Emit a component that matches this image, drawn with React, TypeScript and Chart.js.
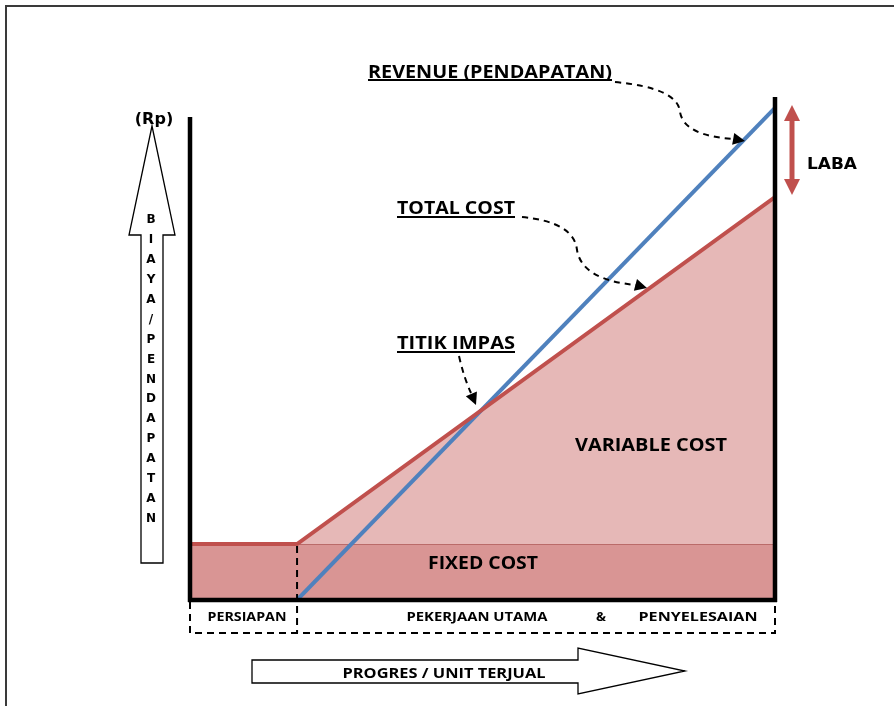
import React, { useEffect, useRef } from "react";
import { Chart, registerables } from "chart.js";

Chart.register(...registerables);

// ---- data (progress on x, Rp on y, both 0..100) ----
const progress = [0, 18.3, 100];
const fixedCost = [11.2, 11.2, 11.2];
const totalCost = [11.2, 11.2, 80.6];
const revenueProgress = [18.3, 100];
const revenue = [0, 98.4];
const phaseBoundary = 18.3;
const leftAxisTop = 96.6;
const rightAxisTop = 100.6;

const phaseLabels = ["PERSIAPAN", "PEKERJAAN UTAMA", "&", "PENYELESAIAN"];
const yArrowLetters = ["B", "I", "A", "Y", "A", "/", "P", "E", "N", "D", "A", "P", "A", "T", "A", "N"];
const calloutLabels = ["REVENUE (PENDAPATAN)", "TOTAL COST", "TITIK IMPAS"];
const areaLabels = ["VARIABLE COST", "FIXED COST"];
const xArrowLabel = "PROGRES / UNIT TERJUAL";
const yUnitLabel = "(Rp)";
const profitLabel = "LABA";

const RED = "#c0504d";
const BLUE = "#4f81bd";
const CAL = "'Open Sans', Lato, sans-serif";
const VER = "'DejaVu Sans', Verdana, sans-serif";

function txt(ctx: CanvasRenderingContext2D, s: string, cx: number, capCy: number, size: number, family: string, w?: number, underline?: number) {
  ctx.save();
  ctx.font = `bold ${size}px ${family}`;
  const m = ctx.measureText(s).width;
  const k = w ? w / m : 1;
  ctx.translate(cx, capCy + size * 0.36);
  ctx.scale(k, 1);
  ctx.textAlign = "center";
  ctx.textBaseline = "alphabetic";
  ctx.fillStyle = "#000";
  ctx.fillText(s, 0, 0);
  ctx.restore();
  if (underline !== undefined) {
    const ww = w ?? m;
    ctx.save();
    ctx.strokeStyle = "#000";
    ctx.lineWidth = 2;
    ctx.beginPath();
    ctx.moveTo(cx - ww / 2, underline);
    ctx.lineTo(cx + ww / 2, underline);
    ctx.stroke();
    ctx.restore();
  }
}

function head(ctx: CanvasRenderingContext2D, tx: number, ty: number, ang: number, len: number, half: number, color: string) {
  ctx.save();
  ctx.translate(tx, ty);
  ctx.rotate(ang);
  ctx.fillStyle = color;
  ctx.beginPath();
  ctx.moveTo(0, 0);
  ctx.lineTo(-len, -half);
  ctx.lineTo(-len, half);
  ctx.closePath();
  ctx.fill();
  ctx.restore();
}

const decor = {
  id: "decor",
  afterDatasetsDraw(chart: any) {
    const ctx: CanvasRenderingContext2D = chart.ctx;
    const X = (v: number) => chart.scales.x.getPixelForValue(v);
    const Y = (v: number) => chart.scales.y.getPixelForValue(v);
    const x0 = X(0), x1 = X(100), xb = X(phaseBoundary), y0 = Y(0), yf = Y(fixedCost[0]);

    ctx.save();
    // outer frame
    ctx.strokeStyle = "#3a3a3a";
    ctx.lineWidth = 2;
    ctx.beginPath();
    ctx.moveTo(894, 6);
    ctx.lineTo(6, 6);
    ctx.lineTo(6, 706);
    ctx.stroke();

    // axes
    ctx.strokeStyle = "#000";
    ctx.lineWidth = 4.5;
    ctx.lineCap = "butt";
    ctx.beginPath();
    ctx.moveTo(x0, Y(leftAxisTop));
    ctx.lineTo(x0, y0 + 2);
    ctx.moveTo(x1, Y(rightAxisTop));
    ctx.lineTo(x1, y0 + 2);
    ctx.moveTo(x0 - 2, y0);
    ctx.lineTo(x1 + 2, y0);
    ctx.stroke();

    // dashed phase boxes
    ctx.lineWidth = 2;
    ctx.setLineDash([7, 5]);
    ctx.beginPath();
    ctx.moveTo(x0, y0 + 2);
    ctx.lineTo(x0, 633);
    ctx.lineTo(x1, 633);
    ctx.lineTo(x1, y0 + 2);
    ctx.moveTo(xb, yf + 2);
    ctx.lineTo(xb, 633);
    ctx.stroke();
    ctx.setLineDash([]);

    // phase labels
    txt(ctx, phaseLabels[0], 247, 617, 12, CAL, 79);
    txt(ctx, phaseLabels[1], 477, 617, 12, CAL, 141);
    txt(ctx, phaseLabels[2], 601, 617, 12, CAL, 10);
    txt(ctx, phaseLabels[3], 698, 617, 12, CAL, 119);

    // area labels
    txt(ctx, areaLabels[0], 651, 445, 17, CAL, 152);
    txt(ctx, areaLabels[1], 483, 563, 17, CAL, 110);

    // callouts
    txt(ctx, calloutLabels[0], 490, 72, 17, CAL, 244, 80);
    txt(ctx, calloutLabels[1], 456, 208, 17, CAL, 118, 217);
    txt(ctx, calloutLabels[2], 456, 343, 17, CAL, 118, 352);

    // dashed curves
    ctx.strokeStyle = "#000";
    ctx.lineWidth = 2;
    ctx.setLineDash([6, 5]);
    ctx.beginPath();
    ctx.moveTo(615, 82);
    ctx.quadraticCurveTo(678, 88, 680, 112);
    ctx.quadraticCurveTo(684, 136, 734, 139);
    ctx.moveTo(522, 217);
    ctx.quadraticCurveTo(574, 222, 577, 250);
    ctx.quadraticCurveTo(582, 280, 636, 285);
    ctx.moveTo(459, 356);
    ctx.quadraticCurveTo(464, 378, 471, 393);
    ctx.stroke();
    ctx.setLineDash([]);
    head(ctx, 745, 141, Math.atan2(2, 11), 12, 6, "#000");
    head(ctx, 647, 288, Math.atan2(3, 11), 12, 6, "#000");
    head(ctx, 476, 405, Math.atan2(12, 5), 12, 6, "#000");

    // LABA double arrow
    const lx = 792;
    ctx.strokeStyle = RED;
    ctx.lineWidth = 5;
    ctx.beginPath();
    ctx.moveTo(lx, 118);
    ctx.lineTo(lx, 183);
    ctx.stroke();
    head(ctx, lx, 105, -Math.PI / 2, 16, 8, RED);
    head(ctx, lx, 195, Math.PI / 2, 16, 8, RED);
    txt(ctx, profitLabel, 832, 163, 16, VER, 50);

    // Y arrow (outline)
    ctx.fillStyle = "#fff";
    ctx.strokeStyle = "#000";
    ctx.lineWidth = 1.3;
    ctx.beginPath();
    ctx.moveTo(152, 126);
    ctx.lineTo(175, 235);
    ctx.lineTo(163, 235);
    ctx.lineTo(163, 563);
    ctx.lineTo(141, 563);
    ctx.lineTo(141, 235);
    ctx.lineTo(129, 235);
    ctx.closePath();
    ctx.fill();
    ctx.stroke();
    txt(ctx, yUnitLabel, 154, 118, 16, VER);
    yArrowLetters.forEach((c, i) => {
      txt(ctx, c, 151, 219 + i * 19.9, 12, VER);
    });

    // X arrow (outline)
    ctx.beginPath();
    ctx.moveTo(252, 660);
    ctx.lineTo(578, 660);
    ctx.lineTo(578, 648);
    ctx.lineTo(685, 671);
    ctx.lineTo(578, 694);
    ctx.lineTo(578, 683);
    ctx.lineTo(252, 683);
    ctx.closePath();
    ctx.fillStyle = "#fff";
    ctx.fill();
    ctx.stroke();
    txt(ctx, xArrowLabel, 444, 673, 15, CAL, 203);

    ctx.restore();
  },
};

export default function App() {
  const ref = useRef<HTMLCanvasElement | null>(null);
  useEffect(() => {
    if (!ref.current) return;
    const pts = (xs: number[], ys: number[]) => xs.map((x, i) => ({ x, y: ys[i] }));
    const chart = new Chart(ref.current, {
      type: "line",
      data: {
        datasets: [
          {
            label: "Fixed cost",
            data: pts(progress, fixedCost),
            fill: "origin",
            backgroundColor: "#d99594",
            borderColor: "rgba(160,72,70,0.55)",
            borderWidth: 2,
            pointRadius: 0,
            order: 5,
          },
          {
            label: "Variable cost",
            data: pts(progress, totalCost),
            fill: "0",
            backgroundColor: "#e6b8b7",
            borderColor: "rgba(0,0,0,0)",
            borderWidth: 0,
            pointRadius: 0,
            order: 4,
          },
          {
            label: "Revenue",
            data: pts(revenueProgress, revenue),
            fill: false,
            borderColor: BLUE,
            borderWidth: 4,
            pointRadius: 0,
            order: 2,
          },
          {
            label: "Total cost",
            data: pts(progress, totalCost),
            fill: false,
            borderColor: RED,
            borderWidth: 4,
            pointRadius: 0,
            order: 1,
          },
        ] as any,
      },
      options: {
        responsive: false,
        animation: false,
        layout: { padding: { left: 190, right: 119, top: 100, bottom: 106 } },
        scales: {
          x: { type: "linear", min: 0, max: 100, display: false },
          y: { type: "linear", min: 0, max: 100, display: false },
        },
        plugins: { legend: { display: false }, tooltip: { enabled: false } },
        events: [],
      },
      plugins: [decor],
    });
    return () => chart.destroy();
  }, []);
  return (
    <div style={{ position: "absolute", left: 0, top: 0, width: 894, height: 706, background: "#fff" }}>
      <canvas ref={ref} width={894} height={706} style={{ width: 894, height: 706 }} />
    </div>
  );
}
